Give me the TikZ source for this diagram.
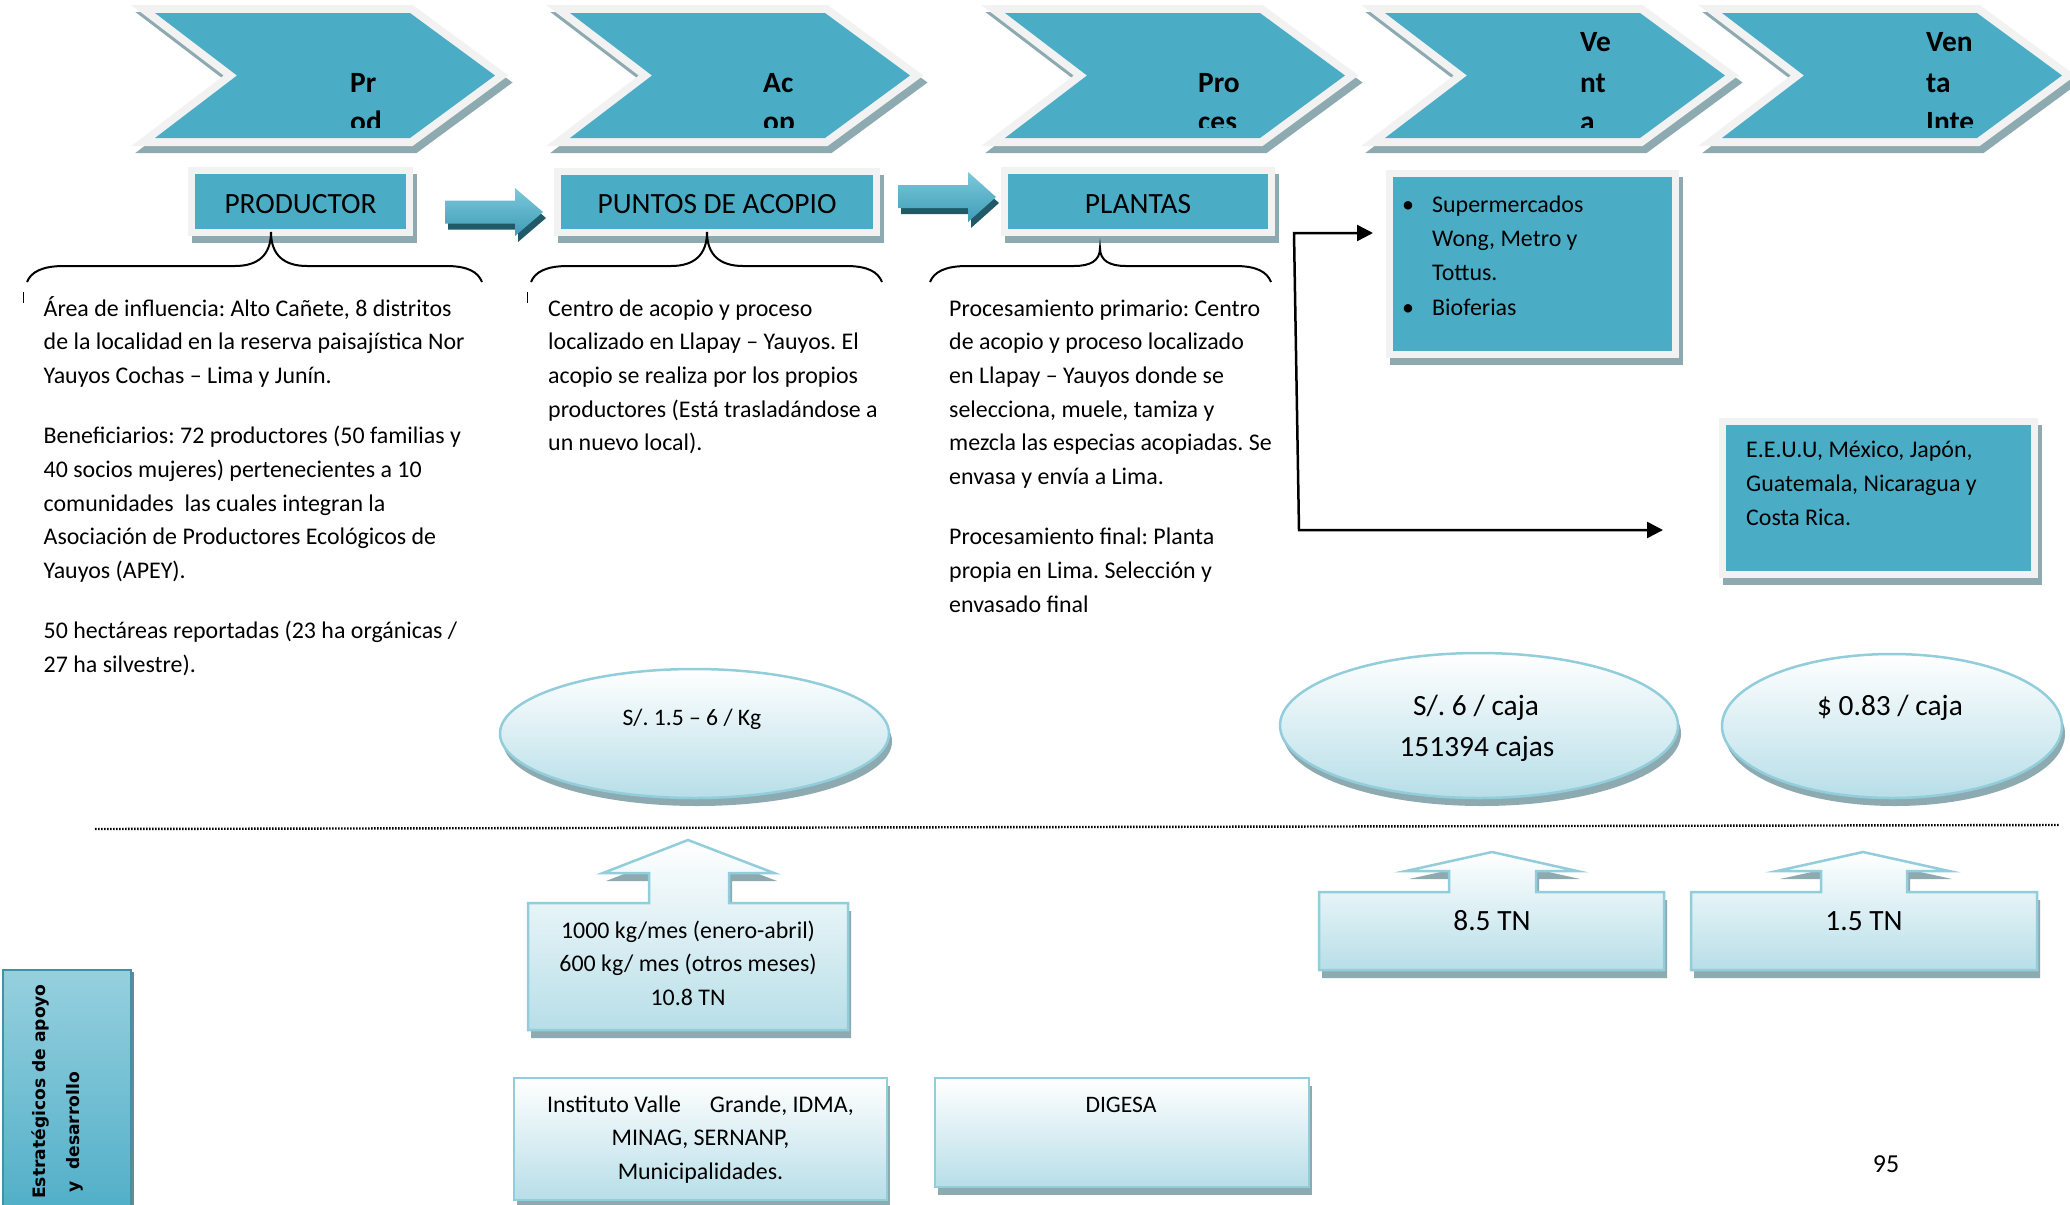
\documentclass[tikz,border=0pt]{standalone}
\usepackage{fontspec}
\setmainfont{Carlito}
\newfontfamily\sidefont{DejaVu Sans}
\usetikzlibrary{shapes.geometric,arrows.meta}
\frenchspacing

\definecolor{accent}{HTML}{4BACC6}
\definecolor{rim}{HTML}{F2F2F2}
\definecolor{dropgrey}{HTML}{8EAAB1}
\definecolor{paleblue}{HTML}{B7DEE8}
\definecolor{edgeblue}{HTML}{92CDDC}
\definecolor{deepteal}{HTML}{215968}
\definecolor{arrowtop}{HTML}{7CC8DB}
\definecolor{arrowbot}{HTML}{3E9DB6}
\definecolor{sidetop}{HTML}{96D0DF}

\newcommand\bodyfont{\fontsize{24}{33.8}\selectfont}
\newcommand\listfont{\fontsize{24}{34.3}\selectfont}
\newcommand\smalllabelfont{\fontsize{23.7}{33.8}\selectfont}
\newcommand\bigfont{\fontsize{29.5}{40.5}\selectfont}
\newcommand\boxfont{\fontsize{29.5}{34}\selectfont}
\newcommand\chevfont{\fontsize{29.5}{38}\selectfont\bfseries}
\newcommand\pagefont{\fontsize{26}{30}\selectfont}
\newcommand\sidetextfont{\sidefont\bfseries\fontsize{17.2}{21}\selectfont}

\begin{document}
\begin{tikzpicture}[x=1bp,y=-1bp,
  chevron/.style={fill=accent,
    preaction={fill=dropgrey,draw=dropgrey,line width=16bp,line join=miter,transform canvas={shift={(4,7)}}},
    preaction={draw=rim,line width=16bp,line join=miter}},
  tealbox/.style={rectangle,inner sep=0pt,outer sep=0pt,fill=accent,font=\boxfont,
    text height=23bp,text depth=0pt,
    preaction={fill=dropgrey,draw=dropgrey,line width=14bp,transform canvas={shift={(4,7)}}},
    preaction={draw=rim,line width=14bp}},
  paleshape/.style={top color=white,bottom color=paleblue,draw=edgeblue,line width=2.5bp,
    preaction={fill=dropgrey,transform canvas={shift={(3,8)}}}},
  palebox/.style={rectangle,inner sep=0pt,outer sep=0pt,paleshape},
  blockarrow/.style={top color=arrowtop,bottom color=arrowbot,
    preaction={fill=deepteal,transform canvas={shift={(3,6)}}}},
  bracepath/.style={draw=black,line width=2bp},
  link/.style={draw=black,line width=2.5bp,{Triangle[length=16bp,width=16bp]}-{Triangle[length=16bp,width=16bp]}},
  txt/.style={anchor=north west,align=left,inner sep=0pt,font=\bodyfont},
  ctxt/.style={anchor=north,align=center,inner sep=0pt,font=\bodyfont},
  chevtext/.style={anchor=base west,inner sep=0pt,font=\chevfont},
  label/.style={anchor=base,inner sep=0pt,font=\smalllabelfont},
  biglabel/.style={anchor=base,inner sep=0pt,font=\bigfont},
  sidetext/.style={anchor=base west,rotate=90,inner sep=0pt,font=\sidetextfont}]

\useasboundingbox (0,0) rectangle (2070,1204);
\fill[white] (0,0) rectangle (2070,1204);

% stage chevrons across the top
\foreach \x in {155,570,1005,1385,1722}{
  \path[chevron] (\x,13) -- ++(255,0) -- ++(85,62.5) -- ++(-85,62.5)
    -- ++(-255,0) -- ++(82,-62.5) -- cycle;
}
\begin{scope}
  \clip (0,0) rectangle (2070,127);
  \node[chevtext] (c1a) at (350,92) {Pr};
  \node[chevtext] (c1b) at (350,131) {od};
  \node[chevtext] (c2a) at (763,92) {Ac};
  \node[chevtext] (c2b) at (763,131) {op};
  \node[chevtext] (c3a) at (1198,92) {Pro};
  \node[chevtext] (c3b) at (1198,131) {ces};
  \node[chevtext] (c4a) at (1580,51) {Ve};
  \node[chevtext] (c4b) at (1580,92) {nt};
  \node[chevtext] (c4c) at (1580,131) {a};
  \node[chevtext] (c5a) at (1926,51) {Ven};
  \node[chevtext] (c5b) at (1926,92) {ta};
  \node[chevtext] (c5c) at (1926,131) {Inte};
\end{scope}

% actors of the chain
\node[tealbox,minimum width=211bp,minimum height=55bp] (prod) at (300.5,201.5) {PRODUCTOR};
\node[tealbox,minimum width=312bp,minimum height=54bp] (acopio) at (717,201.5) {PUNTOS DE ACOPIO};
\node[tealbox,minimum width=260bp,minimum height=55bp] (plantas) at (1138,201.5) {PLANTAS};
\node[tealbox,minimum width=279bp,minimum height=174bp] (nacional) at (1532.5,264) {};
\node[tealbox,minimum width=305bp,minimum height=146bp] (exterior) at (1878.5,498) {};

\node[txt,font=\listfont] (nacionaltxt) at (1402,188.5) {\strut\makebox[30bp][l]{•}Supermercados\\
\hspace*{30bp}Wong, Metro y\\
\hspace*{30bp}Tottus.\\
\makebox[30bp][l]{•}Bioferias};
\node[txt,font=\listfont] (exteriortxt) at (1746,433.5) {\strut E.E.U.U, México, Japón,\\
Guatemala, Nicaragua y\\
Costa Rica.};

% block arrows between the actors
\path[blockarrow] (445,200.5) -- (515,200.5) -- (515,188) -- (543,212) -- (515,236)
  -- (515,223.5) -- (445,223.5) -- cycle;
\path[blockarrow] (898,185) -- (968,185) -- (968,172) -- (996,197) -- (968,222)
  -- (968,208) -- (898,208) -- cycle;

% braces under the actors
\draw[bracepath] (27,282) .. controls (31,272) and (42,266) .. (64,266) -- (235,266)
  .. controls (258,266) and (271,255) .. (271,232)
  .. controls (271,255) and (284,266) .. (307,266) -- (446,266)
  .. controls (468,266) and (478,272) .. (482,282);
\draw[bracepath] (531,282) .. controls (535,272) and (546,266) .. (568,266) -- (671,266)
  .. controls (694,266) and (707,255) .. (707,232)
  .. controls (707,255) and (720,266) .. (743,266) -- (846,266)
  .. controls (868,266) and (878,272) .. (882,282);
\draw[bracepath] (930,282) .. controls (934,272) and (945,266) .. (967,266) -- (1074,266)
  .. controls (1090,266) and (1100,261) .. (1100,248)
  .. controls (1100,261) and (1110,266) .. (1126,266) -- (1235,266)
  .. controls (1257,266) and (1267,272) .. (1271,282);
\draw[line width=1bp] (23,292) -- (23,303);
\draw[line width=1bp] (527,292) -- (527,303);

% descriptions
\node[txt] (zona) at (43.5,292.4) {\strut Área de influencia: Alto Cañete, 8 distritos\\
de la localidad en la reserva paisajística Nor\\
Yauyos Cochas – Lima y Junín.\\[26.5bp]
Beneficiarios: 72 productores (50 familias y\\
40 socios mujeres) pertenecientes a 10\\
comunidades\ \ las cuales integran la\\
Asociación de Productores Ecológicos de\\
Yauyos (APEY).\\[26.5bp]
50 hectáreas reportadas (23 ha orgánicas /\\
27 ha silvestre).};
\node[txt] (centro) at (548,292.4) {\strut Centro de acopio y proceso\\
localizado en Llapay – Yauyos. El\\
acopio se realiza por los propios\\
productores (Está trasladándose a\\
un nuevo local).};
\node[txt] (proceso) at (949,292.4) {\strut Procesamiento primario: Centro\\
de acopio y proceso localizado\\
en Llapay – Yauyos donde se\\
selecciona, muele, tamiza y\\
mezcla las especias acopiadas. Se\\
envasa y envía a Lima.\\[26.5bp]
Procesamiento final: Planta\\
propia en Lima. Selección y\\
envasado final};

% market connectors
\coordinate (toplocal) at (1373,233);
\coordinate (splitA) at (1294,233);
\coordinate (splitB) at (1299,530);
\coordinate (toexport) at (1663,530);
\draw[link] (toplocal) -- (splitA) -- (splitB) -- (toexport);

% prices
\node[ellipse,paleshape,minimum width=389bp,minimum height=129bp,inner sep=0pt] (precio1) at (694.5,733.5) {};
\node[ellipse,paleshape,minimum width=398bp,minimum height=145bp,inner sep=0pt] (precio2) at (1479,725.5) {};
\node[ellipse,paleshape,minimum width=340bp,minimum height=144bp,inner sep=0pt] (precio3) at (1892,726) {};
\node[label] (p1txt) at (692,725) {S/. 1.5 – 6 / Kg};
\node[biglabel] (p2txt) at (1476,715) {S/. 6 / caja};
\node[biglabel] (p2txtb) at (1477,756) {151394 cajas};
\node[biglabel] (p3txt) at (1890,715) {\$ 0.83 / caja};

% separator
\draw[line width=2.4bp,dash pattern=on 1.6bp off 1.4bp] (95,829) -- (2060,825);

% volumes
\path[paleshape] (528,903) -- (649,903) -- (649,873) -- (603,873) -- (688,840) -- (774,873)
  -- (729,873) -- (729,903) -- (848,903) -- (848,1030) -- (528,1030) -- cycle;
\path[paleshape] (1319,892) -- (1449,892) -- (1449,871) -- (1406,871) -- (1492,852) -- (1577,871)
  -- (1536,871) -- (1536,892) -- (1664,892) -- (1664,970) -- (1319,970) -- cycle;
\path[paleshape] (1691,892) -- (1821,892) -- (1821,871) -- (1777,871) -- (1863,852) -- (1949,871)
  -- (1907,871) -- (1907,892) -- (2037,892) -- (2037,970) -- (1691,970) -- cycle;
\node[ctxt] (vol1) at (688,914.4) {\strut 1000 kg/mes (enero-abril)\\
600 kg/ mes (otros meses)\\
10.8 TN};
\node[biglabel] (vol2) at (1492,930) {8.5 TN};
\node[biglabel] (vol3) at (1864,930) {1.5 TN};

% support institutions
\node[palebox,minimum width=373bp,minimum height=122bp] (inst) at (700.5,1139) {};
\node[palebox,minimum width=374bp,minimum height=109bp] (digesa) at (1122,1132.5) {};
\node[ctxt] (insttxt) at (700.5,1088.4) {\strut Instituto Valle\hspace{29bp}Grande, IDMA,\\
MINAG, SERNANP,\\
Municipalidades.};
\node[label] (digesatxt) at (1121,1112) {DIGESA};

% side label
\path[top color=sidetop,bottom color=accent,draw=accent!85!black,line width=2bp,
  preaction={fill=deepteal!70,transform canvas={shift={(3,2)}}}] (3,970) rectangle (131,1230);
\node[sidetext] (side1) at (45,1199) {Estratégicos de apoyo};
\node[sidetext] (side2) at (79,1193) {y\ \ desarrollo};

% page number
\node[anchor=base,inner sep=0pt,font=\pagefont] (pagina) at (1886,1172) {95};
\end{tikzpicture}
\end{document}
